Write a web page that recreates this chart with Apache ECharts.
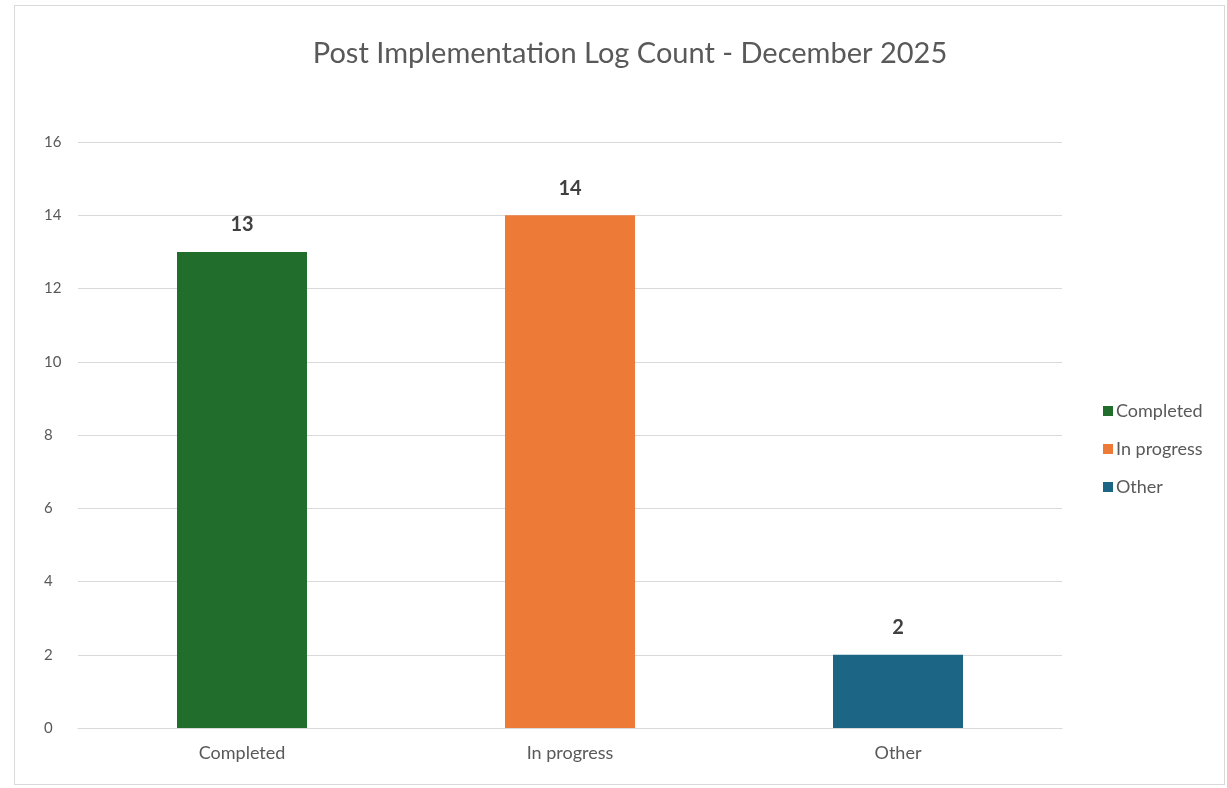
<!DOCTYPE html>
<html>
<head>
<meta charset="utf-8">
<script src="https://cdn.jsdelivr.net/npm/echarts@6/dist/echarts.min.js"></script>
<style>
  html, body { margin: 0; padding: 0; background: #fff; }
  #frame { position: absolute; left: 14px; top: 5px; width: 1211px; height: 780px; border: 1px solid #d9d9d9; box-sizing: border-box; }
  #chart { position: absolute; left: 0; top: 0; width: 1227px; height: 788px; }
</style>
</head>
<body>
<div id="frame"></div>
<div id="chart"></div>
<script>
  const categories = ['Completed', 'In progress', 'Other'];
  const counts = [13, 14, 2];
  const colors = ['#216e2c', '#ee7a38', '#1d6585'];

  const chart = echarts.init(document.getElementById('chart'));
  const font = 'Lato, "Open Sans", sans-serif';

  // one series per category so the legend lists each one
  const series = categories.map((name, i) => ({
    name: name,
    type: 'bar',
    barWidth: 130,
    barGap: '-100%',
    itemStyle: { color: colors[i] },
    label: {
      show: true,
      position: 'top',
      distance: 17,
      fontSize: 20,
      fontWeight: 'bold',
      color: '#404040',
      fontFamily: font,
    },
    data: categories.map((c, j) => (j === i ? counts[i] : '-')),
  }));

  chart.setOption({
    animation: false,
    title: {
      text: 'Post Implementation Log Count - December 2025',
      left: 625,
      textAlign: 'center',
      top: 34,
      textStyle: { fontSize: 29, fontWeight: 'normal', color: '#595959', fontFamily: font },
    },
    legend: {
      orient: 'vertical',
      left: 1098,
      top: 397,
      itemWidth: 10,
      itemHeight: 10,
      itemGap: 20,
      itemStyle: { borderWidth: 0 },
      icon: 'rect',
      textStyle: { fontSize: 18, color: '#595959', fontFamily: font, padding: [0, 0, 0, -2] },
      data: categories,
    },
    grid: { left: 78, right: 165, top: 142, bottom: 60 },
    xAxis: {
      type: 'category',
      data: categories,
      axisLine: { lineStyle: { color: '#d9d9d9' } },
      axisTick: { show: false },
      axisLabel: { fontSize: 18, color: '#595959', margin: 16, fontFamily: font },
    },
    yAxis: {
      type: 'value',
      min: 0,
      max: 16,
      interval: 2,
      axisLabel: { fontSize: 15, color: '#595959', margin: 34, align: 'left', fontFamily: font },
      splitLine: { lineStyle: { color: '#d9d9d9' } },
    },
    series: series,
  });
</script>
</body>
</html>
